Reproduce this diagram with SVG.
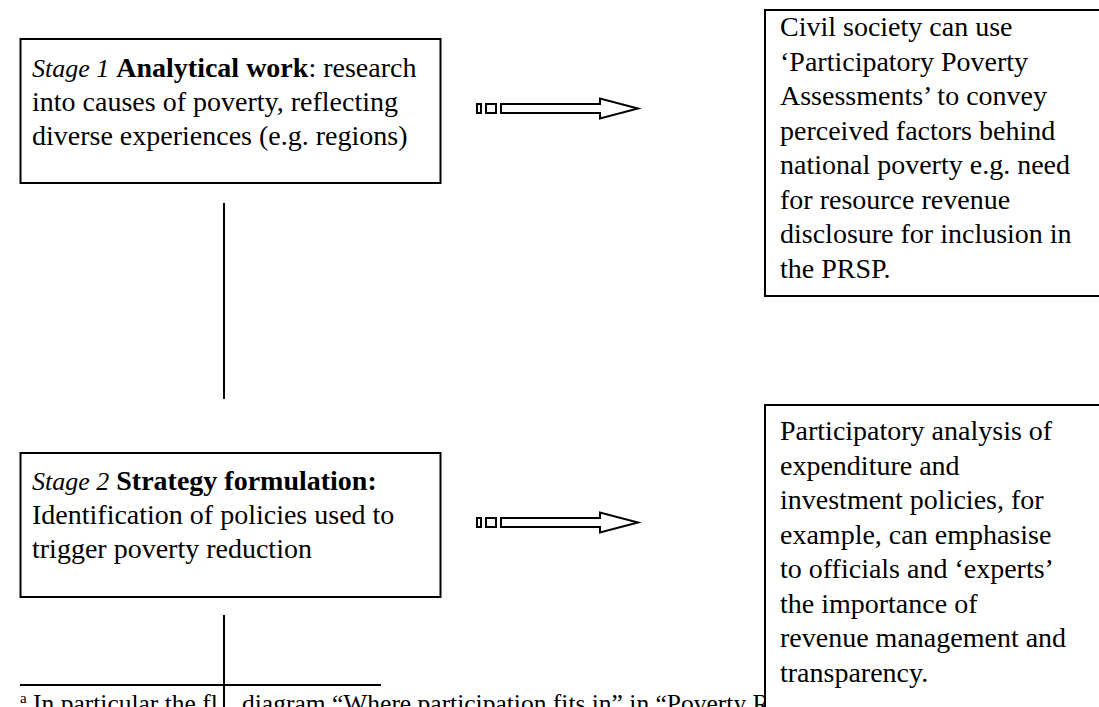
<svg xmlns="http://www.w3.org/2000/svg" width="1099" height="707" viewBox="0 0 1099 707">
<style>
.box{fill:#fff;stroke:#000;stroke-width:2}
.t{font-family:"Liberation Serif","Times New Roman",serif;font-size:28px;fill:#000}
.fn{font-family:"Liberation Serif","Times New Roman",serif;font-size:25.5px;fill:#000}
.i{font-style:italic;font-size:26px}
.b{font-weight:bold}
.ln{stroke:#000;stroke-width:2;fill:none}
.arr{fill:#fff;stroke:#000;stroke-width:2;stroke-linejoin:miter}
</style>
<rect width="1099" height="707" fill="#fff"/>

<g id="connectors">
  <line class="ln" x1="224" y1="203" x2="224" y2="399"/>
  <line class="ln" x1="224" y1="615" x2="224" y2="707"/>
  <line class="ln" x1="20" y1="685" x2="381" y2="685"/>
  <g id="arrow1">
    <rect class="arr" x="477" y="104" width="4" height="9"/>
    <rect class="arr" x="486" y="104" width="10" height="9"/>
    <path class="arr" d="M501,104 H600 V98.5 L638,108.5 L600,118.5 V113 H501 Z"/>
  </g>
  <g id="arrow2">
    <rect class="arr" x="477" y="518" width="4" height="9"/>
    <rect class="arr" x="486" y="518" width="10" height="9"/>
    <path class="arr" d="M501,518 H600 V512.5 L638,522.5 L600,532.5 V527 H501 Z"/>
  </g>
</g>

<g id="footnote">
  <text class="fn" x="20" y="712"><tspan font-size="15" dy="-9">a</tspan><tspan dy="9"> In particular the fl</tspan></text>
  <text class="fn" x="242" y="712">diagram “Where participation fits in” in “Poverty R</text>
</g>

<g id="stage1">
  <rect class="box" x="20.5" y="39" width="420" height="144"/>
  <text class="t" x="32" y="77"><tspan class="i">Stage 1</tspan> <tspan class="b">Analytical work</tspan>: research</text>
  <text class="t" x="32" y="111">into causes of poverty, reflecting</text>
  <text class="t" x="32" y="145">diverse experiences (e.g. regions)</text>
</g>

<g id="stage2">
  <rect class="box" x="20.5" y="453" width="420" height="144"/>
  <text class="t" x="32" y="490"><tspan class="i">Stage 2</tspan> <tspan class="b">Strategy formulation:</tspan></text>
  <text class="t" x="32" y="524">Identification of policies used to</text>
  <text class="t" x="32" y="558">trigger poverty reduction</text>
</g>

<g id="civil">
  <rect class="box" x="765" y="10" width="400" height="286"/>
  <text class="t" x="780" y="36">Civil society can use</text>
  <text class="t" x="780" y="70.5">‘Participatory Poverty</text>
  <text class="t" x="780" y="105">Assessments’ to convey</text>
  <text class="t" x="780" y="139.5">perceived factors behind</text>
  <text class="t" x="780" y="174">national poverty e.g. need</text>
  <text class="t" x="780" y="208.5">for resource revenue</text>
  <text class="t" x="780" y="243">disclosure for inclusion in</text>
  <text class="t" x="780" y="277.5">the PRSP.</text>
</g>

<g id="participatory">
  <rect class="box" x="765" y="405" width="400" height="400"/>
  <text class="t" x="780" y="440">Participatory analysis of</text>
  <text class="t" x="780" y="474.5">expenditure and</text>
  <text class="t" x="780" y="509">investment policies, for</text>
  <text class="t" x="780" y="543.5">example, can emphasise</text>
  <text class="t" x="780" y="578">to officials and ‘experts’</text>
  <text class="t" x="780" y="612.5">the importance of</text>
  <text class="t" x="780" y="647">revenue management and</text>
  <text class="t" x="780" y="681.5">transparency.</text>
</g>
</svg>
